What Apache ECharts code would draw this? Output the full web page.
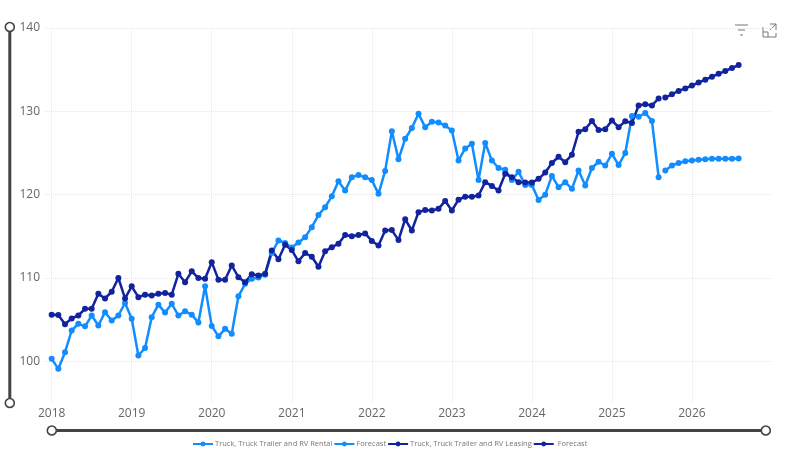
<!DOCTYPE html>
<html><head><meta charset="utf-8">
<style>html,body{margin:0;padding:0;background:#fff}#c{width:787px;height:452px}</style>
<script src="https://cdn.jsdelivr.net/npm/echarts@6/dist/echarts.min.js"></script>
</head><body><div id="c"></div>
<script>
const firstYear = 2018, lastYear = 2027;
const yTicks = [100, 110, 120, 130, 140];
const rentalActual = [100.3,99.1,101.1,103.7,104.5,104.2,105.5,104.3,105.9,104.9,105.5,107.0,
105.1,100.7,101.6,105.3,106.8,105.85,106.9,105.5,106.0,105.6,104.65,109.0,
104.25,103.0,103.9,103.3,107.8,109.3,109.9,110.05,110.4,113.0,114.5,114.2,
113.65,114.25,114.9,116.1,117.55,118.5,119.8,121.6,120.5,122.1,122.35,122.1,
121.75,120.1,122.85,127.6,124.25,126.7,128.0,129.7,128.1,128.75,128.65,128.3,
127.7,124.1,125.55,126.1,121.75,126.2,124.1,123.2,123.0,121.75,122.75,121.15,
121.15,119.35,120.0,122.25,120.9,121.5,120.7,122.9,121.1,123.2,123.95,123.5,
124.9,123.55,125.0,129.45,129.35,129.8,128.85,122.1];
const rentalForecast = [122.9,123.5,123.8,124.0,124.1,124.2,124.25,124.3,124.3,124.3,124.3,124.35];
const leasingActual = [105.6,105.55,104.45,105.15,105.5,106.3,106.3,108.1,107.55,108.35,110.0,107.55,
109.0,107.7,108.0,107.9,108.1,108.2,108.0,110.5,109.5,110.8,110.0,109.9,
111.9,109.8,109.8,111.5,110.1,109.5,110.45,110.3,110.5,113.3,112.25,114.0,
113.35,112.0,113.0,112.55,111.35,113.2,113.7,114.1,115.15,115.0,115.15,115.35,
114.45,113.9,115.7,115.75,114.55,117.05,115.7,117.9,118.15,118.1,118.3,119.25,
118.1,119.4,119.75,119.75,119.9,121.5,121.05,120.5,122.5,122.1,121.5,121.45,
121.45,121.9,122.65,123.8,124.55,123.9,124.8,127.55,127.85,128.85,127.75,127.85,
128.9,128.1,128.8,128.6,130.7,130.85,130.7,131.55];
const leasingForecast = [131.65,132.05,132.45,132.75,133.1,133.45,133.8,134.15,134.5,134.85,135.2,135.55];
const seriesNames = ['Truck, Truck Trailer and RV Rental','Forecast','Truck, Truck Trailer and RV Leasing',' Forecast'];
const lightBlue = '#118DFF', navy = '#12239E';

const categories = [''];
for (let y = firstYear; y < lastYear; y++) for (let m = 1; m <= 12; m++) categories.push(y + '-' + m);
categories.push(lastYear + '-1');
const isYearStart = (i, name) => /-1$/.test(name) && !name.startsWith(String(lastYear));
const pad = n => new Array(n).fill(null);
const actual = a => [null].concat(a);
const forecast = (a, offset) => pad(1 + offset).concat(a);

const mk = (name, data, color) => ({
  name, type: 'line', data, smooth: false, connectNulls: false,
  symbol: 'circle', symbolSize: 6, showSymbol: true, showAllSymbol: true,
  lineStyle: { color, width: 2.5 }, itemStyle: { color }, z: 3
});
const handle = { color: '#fff', borderColor: '#444', borderWidth: 1.6 };
const sliderCommon = {
  type: 'slider', start: 0, end: 100, filterMode: 'none', showDetail: false, showDataShadow: false,
  backgroundColor: 'transparent', borderColor: 'transparent', fillerColor: '#444',
  handleIcon: 'circle', handleSize: 9, handleStyle: handle, moveHandleSize: 0, brushSelect: false,
  emphasis: { handleStyle: handle }
};
const gridLine = { color: '#e6e6e6', type: 'dotted', width: 1 };
const iconStroke = { fill: 'none', stroke: '#777', lineWidth: 1 };
const iconLine = pts => ({ type: 'polyline', silent: true, shape: { points: pts }, style: iconStroke });
const chart = echarts.init(document.getElementById('c'), null, { renderer: 'canvas' });
chart.setOption({
  animation: false,
  backgroundColor: '#fff',
  textStyle: { fontFamily: '"Open Sans", "Noto Sans", sans-serif' },
  grid: { left: 45, right: 15, top: 28, bottom: 49, containLabel: false },
  xAxis: {
    type: 'category', data: categories, boundaryGap: false,
    axisLine: { show: false }, axisTick: { show: false },
    axisLabel: { interval: isYearStart, formatter: v => v.split('-')[0],
      color: '#666', fontSize: 12, margin: 5, hideOverlap: false, showMinLabel: true },
    splitLine: { show: true, interval: isYearStart, lineStyle: gridLine }
  },
  yAxis: {
    type: 'value', min: 95, max: 140, interval: 5,
    axisLine: { show: false },
    axisTick: { show: false, customValues: yTicks },
    axisLabel: { customValues: yTicks, color: '#666', fontSize: 12, margin: 5 },
    splitLine: { show: true, lineStyle: gridLine }
  },
  legend: {
    bottom: -1, left: 187, itemWidth: 20, itemHeight: 6, itemGap: 1,
    textStyle: { color: '#777', fontSize: 7.5, padding: [0, 0, 0, -3] },
    data: seriesNames
  },
  graphic: [
    iconLine([[735,25],[748,25]]), iconLine([[738,30],[745,30]]), iconLine([[740,35],[743,35]]),
    iconLine([[770,24],[776,24],[776,30]]), iconLine([[776,24],[770,30]]),
    iconLine([[763,27],[763,37],[776,37],[776,33]]), iconLine([[763,32],[768,32],[768,37]])
  ],
  dataZoom: [
    Object.assign({}, sliderCommon, { xAxisIndex: 0, left: 49, right: 22, top: 429, height: 3 }),
    Object.assign({}, sliderCommon, { yAxisIndex: 0, left: 7.5, width: 3, top: 26, bottom: 48, orient: 'vertical' })
  ],
  series: [
    mk(seriesNames[0], actual(rentalActual), lightBlue),
    mk(seriesNames[1], forecast(rentalForecast, rentalActual.length), lightBlue),
    mk(seriesNames[2], actual(leasingActual), navy),
    mk(seriesNames[3], forecast(leasingForecast, leasingActual.length), navy)
  ]
});
</script></body></html>
